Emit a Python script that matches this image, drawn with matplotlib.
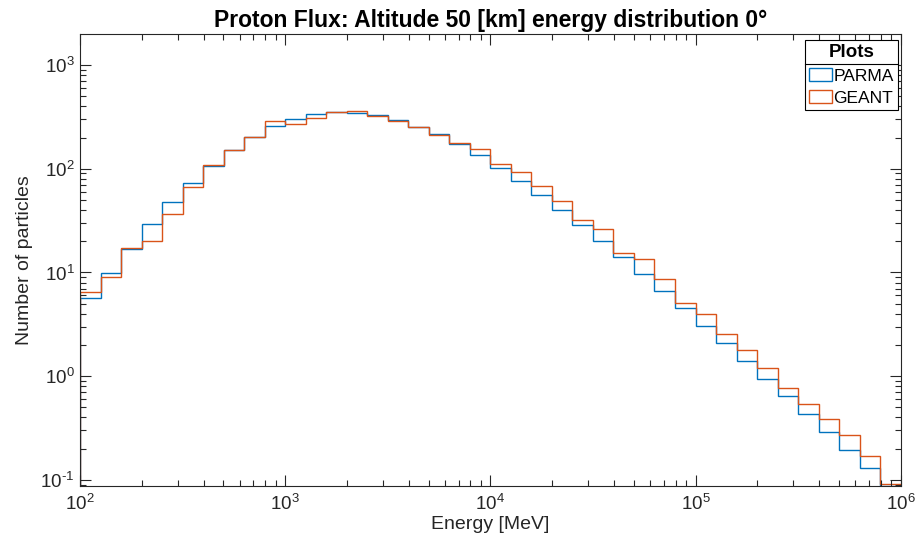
import numpy as np
import matplotlib
matplotlib.use("Agg")
import matplotlib.pyplot as plt
from matplotlib.patches import Patch
from matplotlib.lines import Line2D
from matplotlib.ticker import FuncFormatter, LogLocator

# ---- data ----
bin_edges = 10 ** (np.arange(2.0, 6.01, 0.1))  # 40 log-spaced bins, 10 per decade
parma = [5.68, 9.8, 16.9, 29.2, 47.4, 72.4, 107, 153, 204, 257,
         304, 339, 352, 345, 327, 293, 254, 215, 173, 135,
         102, 76.7, 55.9, 40.3, 28.5, 20.1, 14.0, 9.6, 6.6, 4.52,
         3.05, 2.09, 1.41, 0.946, 0.641, 0.433, 0.292, 0.196, 0.131, 0.087]
geant = [6.44, 9.1, 17.3, 20.1, 36.4, 66.3, 109, 153, 204, 287,
         267, 311, 350, 360, 322, 289, 254, 210, 178, 154,
         110, 92.5, 67.8, 49.2, 32.1, 26.4, 15.3, 13.5, 8.65, 5.05,
         3.98, 2.54, 1.79, 1.19, 0.77, 0.544, 0.39, 0.273, 0.169, 0.092]
series_names = ["PARMA", "GEANT"]
colors = ["#0072BD", "#D95319"]

plt.rcParams['font.family'] = ['Liberation Sans', 'DejaVu Sans']
plt.rcParams['mathtext.fontset'] = 'custom'
plt.rcParams['mathtext.rm'] = 'Liberation Sans'
plt.rcParams['mathtext.it'] = 'Liberation Sans'
plt.rcParams['axes.unicode_minus'] = False

axcol = '#262626'
fig = plt.figure(figsize=(9.17, 5.46), dpi=100)
ax = fig.add_axes([80/917, (546-485.7)/546, (900.7-80)/917, (485.7-34)/546])

for vals, c in zip([parma, geant], colors):
    ax.stairs(vals, bin_edges, baseline=1e-4, color=c, linewidth=1.0)

ax.set_xscale('log')
ax.set_yscale('log')
ax.set_xlim(1e2, 1e6)
ax.set_ylim(0.088, 1990)


def pow_fmt(v, pos):
    e = int(round(np.log10(v)))
    return r'$10^{\text{%d}}$' % e


for axis in (ax.xaxis, ax.yaxis):
    axis.set_major_locator(LogLocator(base=10))
    axis.set_major_formatter(FuncFormatter(pow_fmt))

for s in ax.spines.values():
    s.set_color(axcol)
    s.set_linewidth(0.8)
ax.tick_params(which='both', direction='in', top=True, right=True, colors=axcol,
               labelsize=13.5, width=0.8)
ax.tick_params(which='major', length=8)
ax.tick_params(which='minor', length=4.5)
ax.tick_params(axis='x', pad=6)
ax.tick_params(axis='y', pad=4)
for lab in ax.get_xticklabels() + ax.get_yticklabels():
    lab.set_color('#262626')

ax.set_xlabel('Energy [MeV]', fontsize=14, color=axcol, labelpad=1)
ax.set_ylabel('Number of particles', fontsize=14, color=axcol, labelpad=5)
ax.set_title('Proton Flux: Altitude 50 [km] energy distribution 0°', fontsize=16.5,
             fontweight='bold', color='black', pad=5)

handles = [Patch(facecolor='white', edgecolor=c, linewidth=1.0) for c in colors]
leg = ax.legend(handles, series_names, title='Plots', loc='upper right',
                bbox_to_anchor=((898-80)/820.7, (485.7-40)/451.7),
                fancybox=False, framealpha=1, edgecolor='black', fontsize=12.5,
                title_fontproperties={'weight': 'bold', 'size': 13.5},
                borderaxespad=0.0, handlelength=1.35, handleheight=0.8,
                handletextpad=0.05, borderpad=0.25, labelspacing=0.38)
leg.get_frame().set_linewidth(0.8)

fig.canvas.draw()
tb = leg._legend_title_box.get_window_extent()
fb = leg.get_frame().get_window_extent()
inv = fig.transFigure.inverted()
y_sep = tb.y0 - 2.5
(x0, ys), (x1, _) = inv.transform([(fb.x0, y_sep), (fb.x1, y_sep)])
fig.add_artist(Line2D([x0, x1], [ys, ys], color='black', linewidth=0.8))

fig.savefig('out.png', dpi=100)
